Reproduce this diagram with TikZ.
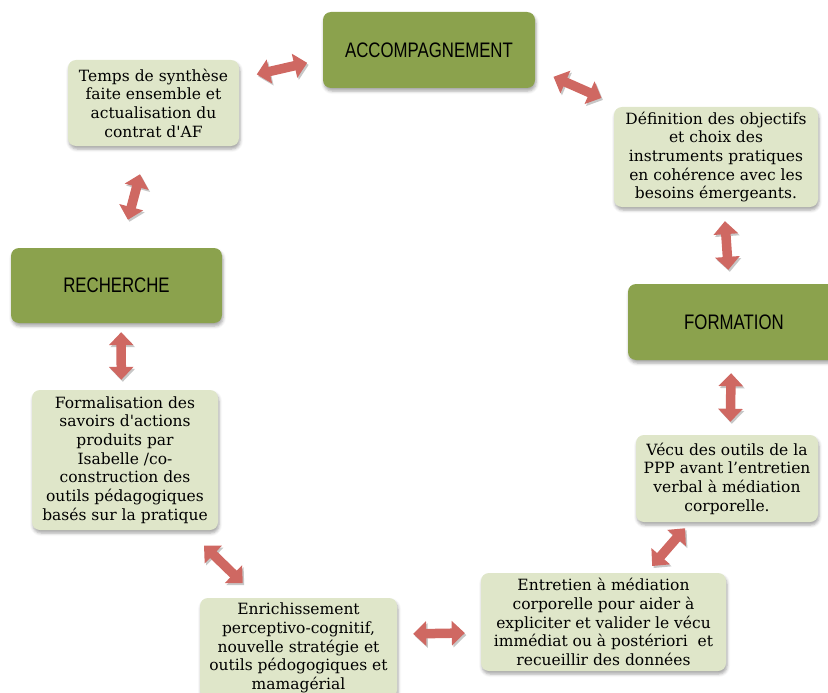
\documentclass[tikz,border=0pt]{standalone}
\usepackage{fontspec}
\setmainfont{DejaVu Serif}
\newfontfamily\headfont[FakeStretch=0.8]{Liberation Sans}
\usepackage{tikz}
\usetikzlibrary{arrows.meta,shadows.blur}
\usepackage{xcolor}
\definecolor{leaf0}{HTML}{8BA24D}
\definecolor{leaf5}{HTML}{DFE6C9}
\definecolor{brick}{HTML}{CF6862}

\begin{document}
\begin{tikzpicture}[x=1pt,y=-1pt,
    phase/.style={fill=leaf0,rounded corners=8pt,minimum width=212pt,minimum height=76pt,
        font=\headfont\fontsize{21}{25}\selectfont,
        blur shadow={shadow xshift=1pt,shadow yshift=-3pt,shadow blur radius=3pt,shadow opacity=35}},
    etape/.style={fill=leaf5,rounded corners=8pt,align=center,inner sep=2pt,
        font=\fontsize{15.5}{18.7}\selectfont,
        blur shadow={shadow xshift=1pt,shadow yshift=-3pt,shadow blur radius=3pt,shadow opacity=35}},
    lien/.style={draw=brick,line width=9.5pt,
        arrows={Triangle[width=24pt,length=13pt]-Triangle[width=24pt,length=13pt]},
        preaction={draw=black!22,transform canvas={shift={(1.5pt,-2pt)}}}}
]
\useasboundingbox (0,0) rectangle (828,693);

% the four phases
\node[phase] (accomp) at (429,50) {ACCOMPAGNEMENT};
\node[phase] (formation) at (734,322) {FORMATION};
\node[phase,minimum width=211pt,minimum height=75pt] (recherche) at (116.5,285.5) {RECHERCHE};

% the steps between them
\node[etape,minimum width=171pt,minimum height=86pt] (temps) at (153.5,103)
    {Temps de synthèse\\faite ensemble et\\actualisation du\\contrat d\textquotesingle AF};
\node[etape,minimum width=204pt,minimum height=100pt] (definition) at (716,157)
    {Définition des objectifs\\et choix des\\instruments pratiques\\en cohérence avec les\\besoins émergeants.};
\node[etape,minimum width=182pt,minimum height=87pt] (vecu) at (727,478.5)
    {Vécu des outils de la\\PPP avant l’entretien\\verbal à médiation\\corporelle.};
\node[etape,minimum width=245pt,minimum height=98pt] (entretien) at (603.5,622)
    {Entretien à médiation\\corporelle pour aider à\\expliciter et valider le vécu\\immédiat ou à postériori~ et\\recueillir des données};
\node[etape,minimum width=197pt,minimum height=100pt] (enrich) at (298.5,648)
    {Enrichissement\\perceptivo-cognitif,\\nouvelle stratégie et\\outils pédogogiques et\\mamagérial};
\node[etape,minimum width=186pt,minimum height=140pt] (formal) at (125,460)
    {Formalisation des\\savoirs d\textquotesingle actions\\produits par\\Isabelle /co-\\construction des\\outils pédagogiques\\basés sur la pratique};

% double arrows round the cycle
\draw[lien,shorten <=18pt,shorten >=16pt] (temps.16) -- (accomp.185);
\draw[lien,shorten <=20pt,shorten >=22pt] (accomp.-10) -- (definition.152);
\draw[lien,shorten <=14pt,shorten >=14pt] (definition.-81) -- (formation.97);
\draw[lien,shorten <=13pt,shorten >=13pt] (formation.-94) -- (vecu.86);
\draw[lien,shorten <=8pt,shorten >=9pt] (vecu.230) -- (entretien.49);
\draw[lien,shorten <=16pt,shorten >=16pt] (entretien.185) -- (enrich.8);
\draw[lien,shorten <=21pt,shorten >=22pt] (enrich.129) -- (formal.-48);
\draw[lien,shorten <=10pt,shorten >=9pt] (formal.93) -- (recherche.-83);
\draw[lien,shorten <=29pt,shorten >=29pt] (recherche.84) -- (temps.-98);
\end{tikzpicture}
\end{document}
